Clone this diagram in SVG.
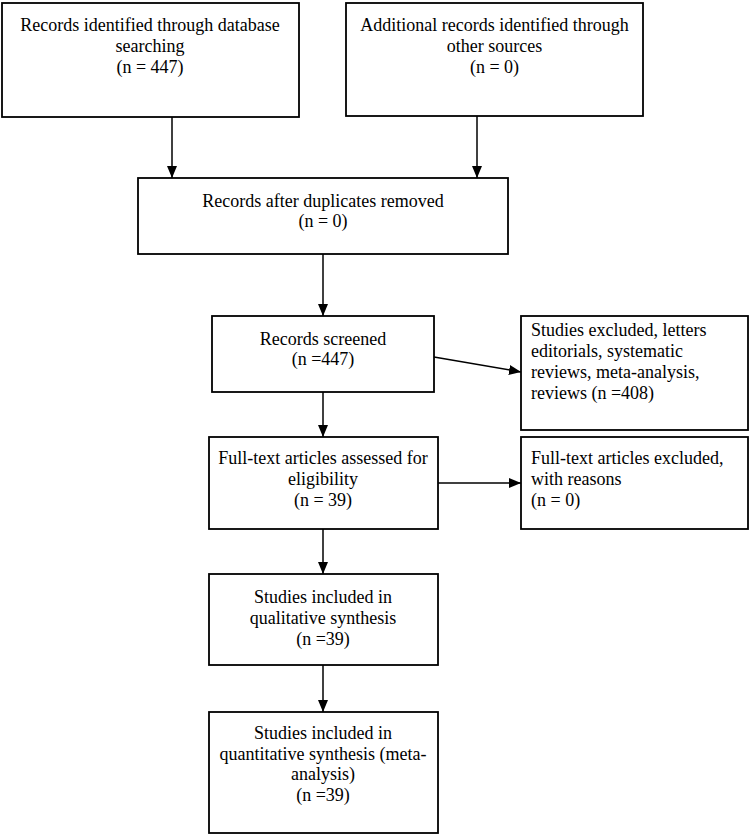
<svg xmlns="http://www.w3.org/2000/svg" width="753" height="836" viewBox="0 0 753 836">
<style>
.box{fill:#fff;stroke:#000;stroke-width:1.8}
.t{font-family:"Liberation Serif","Times New Roman",serif;font-size:18px;fill:#000}
.c{text-anchor:middle}
.conn{stroke:#000;stroke-width:1.5;fill:none;marker-end:url(#ah)}
</style>
<defs>
<marker id="ah" markerUnits="userSpaceOnUse" markerWidth="12" markerHeight="12" viewBox="0 0 12 12" refX="12" refY="6" orient="auto">
<path d="M0,1 L12,6 L0,11 Z" fill="#000"/>
</marker>
</defs>
<rect width="753" height="836" fill="#fff"/>
<g id="connectors">
<line class="conn" x1="172" y1="117" x2="172" y2="178"/>
<line class="conn" x1="477" y1="116" x2="477" y2="178"/>
<line class="conn" x1="323" y1="254" x2="323" y2="316"/>
<line class="conn" x1="323" y1="392" x2="323" y2="437"/>
<line class="conn" x1="323" y1="529" x2="323" y2="574"/>
<line class="conn" x1="323" y1="665" x2="323" y2="712"/>
<line class="conn" x1="434" y1="357" x2="521" y2="372"/>
<line class="conn" x1="438" y1="483" x2="521" y2="483"/>
</g>
<g id="n1">
<rect class="box" x="2" y="3" width="297" height="114"/>
<text class="t c" x="150" y="31">Records identified through database</text>
<text class="t c" x="150" y="52">searching</text>
<text class="t c" x="150" y="73">(n = 447)</text>
</g>
<g id="n2">
<rect class="box" x="346" y="3" width="297" height="113"/>
<text class="t c" x="494.5" y="31">Additional records identified through</text>
<text class="t c" x="494.5" y="52">other sources</text>
<text class="t c" x="494.5" y="73">(n = 0)</text>
</g>
<g id="n3">
<rect class="box" x="138" y="178" width="370" height="76"/>
<text class="t c" x="323" y="207">Records after duplicates removed</text>
<text class="t c" x="323" y="227">(n = 0)</text>
</g>
<g id="n4">
<rect class="box" x="212" y="316" width="222" height="76"/>
<text class="t c" x="323" y="345">Records screened</text>
<text class="t c" x="323" y="365">(n =447)</text>
</g>
<g id="n5">
<rect class="box" x="521" y="316" width="227" height="114"/>
<text class="t" x="531" y="336">Studies excluded, letters</text>
<text class="t" x="531" y="357">editorials, systematic</text>
<text class="t" x="531" y="378">reviews, meta-analysis,</text>
<text class="t" x="531" y="399">reviews (n =408)</text>
</g>
<g id="n6">
<rect class="box" x="209" y="437" width="229" height="92"/>
<text class="t c" x="323" y="464">Full-text articles assessed for</text>
<text class="t c" x="323" y="485">eligibility</text>
<text class="t c" x="323" y="506">(n = 39)</text>
</g>
<g id="n7">
<rect class="box" x="521" y="437" width="227" height="92"/>
<text class="t" x="531" y="464">Full-text articles excluded,</text>
<text class="t" x="531" y="485">with reasons</text>
<text class="t" x="531" y="506">(n = 0)</text>
</g>
<g id="n8">
<rect class="box" x="209" y="574" width="229" height="91"/>
<text class="t c" x="323" y="603">Studies included in</text>
<text class="t c" x="323" y="624">qualitative synthesis</text>
<text class="t c" x="323" y="645">(n =39)</text>
</g>
<g id="n9">
<rect class="box" x="209" y="712" width="229" height="121"/>
<text class="t c" x="323" y="739">Studies included in</text>
<text class="t c" x="323" y="759.5">quantitative synthesis (meta-</text>
<text class="t c" x="323" y="780">analysis)</text>
<text class="t c" x="323" y="800.5">(n =39)</text>
</g>
</svg>
